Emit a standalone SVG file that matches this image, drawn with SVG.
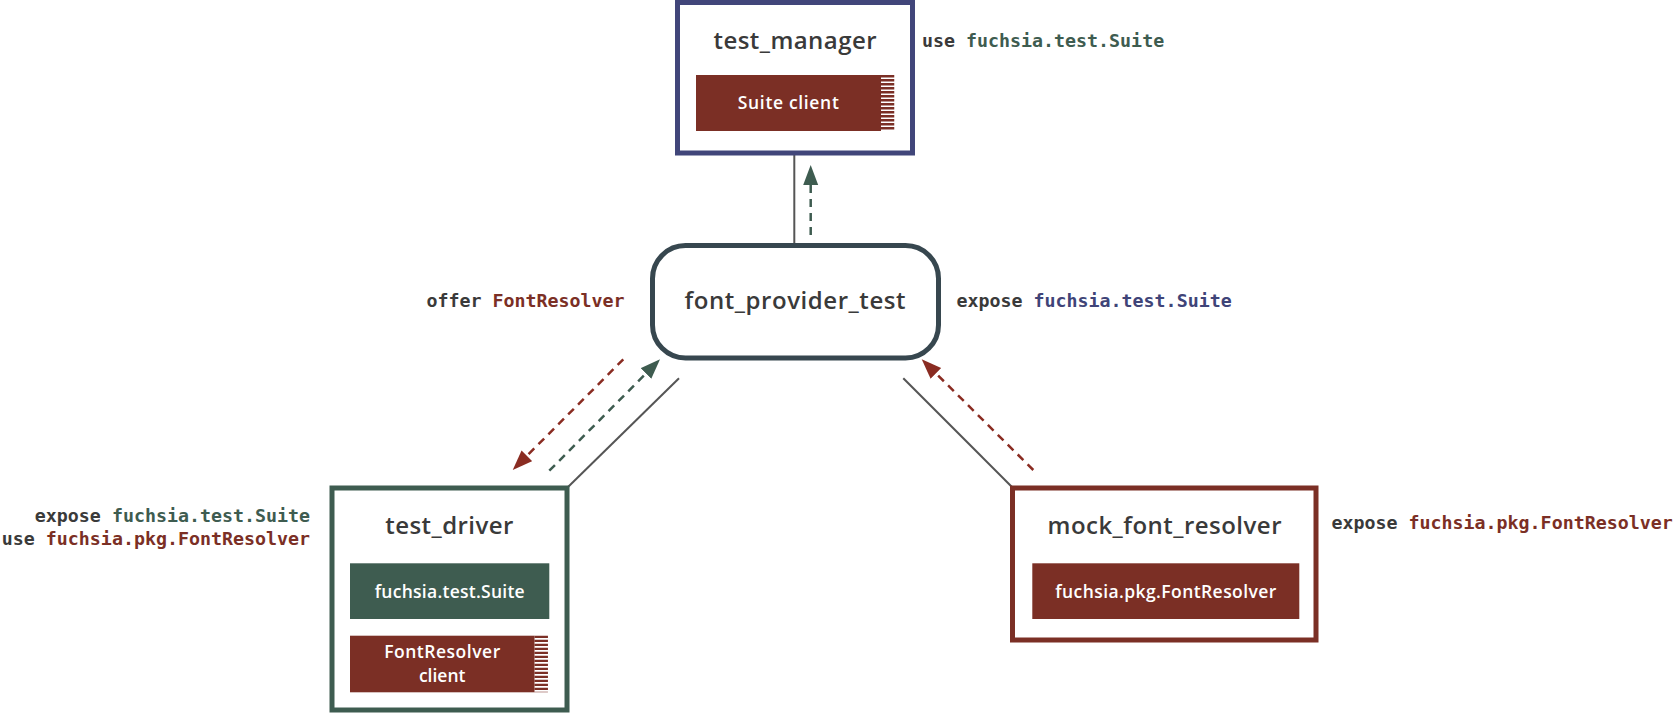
<svg xmlns="http://www.w3.org/2000/svg" width="1676" height="714" viewBox="0 0 1676 714">
  <style>
    .box { fill: #ffffff; stroke-width: 5; }
    .title { font-family: "Open Sans", "Noto Sans", sans-serif; font-weight: 600; font-size: 24px; fill: #3a3a3a; text-anchor: middle; }
    .cap { font-family: "Open Sans", "Noto Sans", sans-serif; font-weight: 600; font-size: 17.5px; fill: #ffffff; text-anchor: middle; }
    .code { font-family: "DejaVu Sans Mono", "Liberation Mono", monospace; font-weight: bold; font-size: 18.3px; fill: #3a3a3a; }
    .green { fill: #3e5c50; }
    .red { fill: #7b2f25; }
    .navy { fill: #3f4478; }
    .stripes { stroke: #7b2f25; stroke-width: 13.5; stroke-dasharray: 2.4 1.6; fill: none; }
    .link { stroke: #555555; stroke-width: 2; fill: none; }
    .route-red { stroke: #8a2c22; stroke-width: 2.5; stroke-dasharray: 8 6; fill: none; marker-end: url(#head-red); }
    .route-green { stroke: #3e5c50; stroke-width: 2.5; stroke-dasharray: 8 6; fill: none; marker-end: url(#head-green); }
  </style>
  <defs>
    <marker id="head-red" markerUnits="userSpaceOnUse" markerWidth="21" markerHeight="16" viewBox="0 0 21 16" refX="10" refY="7.5" orient="auto">
      <path d="M0,0 L20,7.5 L0,15 Z" fill="#8a2c22"/>
    </marker>
    <marker id="head-green" markerUnits="userSpaceOnUse" markerWidth="21" markerHeight="16" viewBox="0 0 21 16" refX="10" refY="7.5" orient="auto">
      <path d="M0,0 L20,7.5 L0,15 Z" fill="#3e5c50"/>
    </marker>
  </defs>

  <!-- connectors -->
  <g id="connectors">
    <line class="link" x1="794.3" y1="155" x2="794.3" y2="243"/>
    <line class="link" x1="679" y1="378.3" x2="568" y2="487"/>
    <line class="link" x1="903.3" y1="378.3" x2="1012" y2="487"/>
    <path class="route-green" d="M810.7,235 L810.7,175"/>
    <path class="route-red" d="M623.3,359.3 L519.8,462.9"/>
    <path class="route-green" d="M549.3,470.7 L653,366.4"/>
    <path class="route-red" d="M1033.3,470 L928.8,366.3"/>
  </g>

  <!-- test_manager -->
  <g id="test_manager">
    <rect class="box" x="677.5" y="2.5" width="235" height="150.5" stroke="#41467a"/>
    <text class="title" x="795" y="49" textLength="163" lengthAdjust="spacing">test_manager</text>
    <rect x="696" y="75" width="185" height="56" fill="#7b2f25"/>
    <line class="stripes" x1="887.5" y1="75" x2="887.5" y2="131"/>
    <text class="cap" x="788.3" y="109" textLength="101" lengthAdjust="spacing">Suite client</text>
    <text class="code" x="922" y="47" font-size="17.6">use <tspan class="green">fuchsia.test.Suite</tspan></text>
  </g>

  <!-- font_provider_test -->
  <g id="font_provider_test">
    <rect class="box" x="652.5" y="245.5" width="286" height="112.5" rx="33" ry="33" stroke="#37474f"/>
    <text class="title" x="795" y="309" textLength="221" lengthAdjust="spacing">font_provider_test</text>
    <text class="code" x="426.5" y="307.3">offer <tspan class="red">FontResolver</tspan></text>
    <text class="code" x="956.5" y="307.3">expose <tspan class="navy">fuchsia.test.Suite</tspan></text>
  </g>

  <!-- test_driver -->
  <g id="test_driver">
    <rect class="box" x="332" y="488" width="235" height="222" stroke="#3e5c50"/>
    <text class="title" x="449.3" y="534" textLength="128" lengthAdjust="spacing">test_driver</text>
    <rect x="350" y="563.3" width="199.3" height="55.7" fill="#3e5c50"/>
    <text class="cap" x="449.7" y="597.7" textLength="150" lengthAdjust="spacing">fuchsia.test.Suite</text>
    <rect x="350" y="635.7" width="184.5" height="56.6" fill="#7b2f25"/>
    <line class="stripes" x1="541.2" y1="635.7" x2="541.2" y2="692.3"/>
    <text class="cap" x="442.2" y="658.3" textLength="116" lengthAdjust="spacing">FontResolver</text>
    <text class="cap" x="442.2" y="682.3">client</text>
    <text class="code" x="310" y="522.3" text-anchor="end">expose <tspan class="green">fuchsia.test.Suite</tspan></text>
    <text class="code" x="310" y="545" text-anchor="end">use <tspan class="red">fuchsia.pkg.FontResolver</tspan></text>
  </g>

  <!-- mock_font_resolver -->
  <g id="mock_font_resolver">
    <rect class="box" x="1012.5" y="488" width="303.5" height="152" stroke="#7b2f25"/>
    <text class="title" x="1164.5" y="534" textLength="234" lengthAdjust="spacing">mock_font_resolver</text>
    <rect x="1032.3" y="563.3" width="267" height="55.7" fill="#7b2f25"/>
    <text class="cap" x="1165.8" y="597.7" textLength="221" lengthAdjust="spacing">fuchsia.pkg.FontResolver</text>
    <text class="code" x="1331.5" y="529.3">expose <tspan class="red">fuchsia.pkg.FontResolver</tspan></text>
  </g>
</svg>
